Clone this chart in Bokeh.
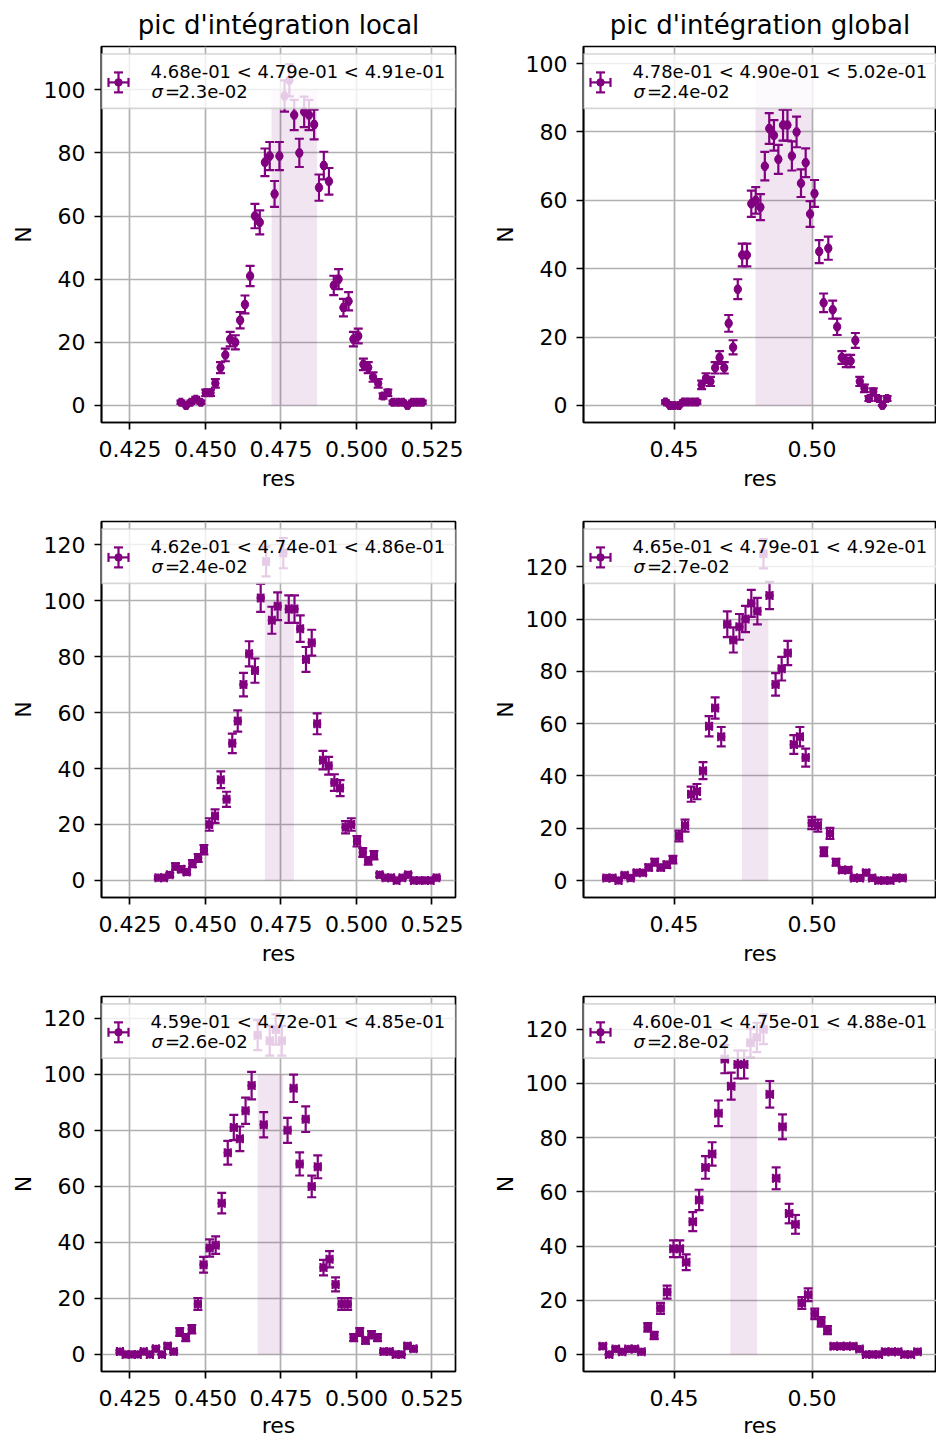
import numpy as np
from bokeh.plotting import figure
from bokeh.layouts import column, row
from bokeh.models import (ColumnDataSource, FixedTicker, NumeralTickFormatter,
                          BoxAnnotation, Label, Range1d)
from bokeh.embed import file_html
from bokeh.resources import INLINE

# ---------------------------------------------------------------- data
titles = ["pic d'intégration local", "pic d'intégration global"]

res_1 = [0.4419, 0.4436, 0.4452, 0.4468, 0.4485, 0.4501, 0.4517, 0.4533, 0.4550, 0.4566,
         0.4582, 0.4599, 0.4615, 0.4631, 0.4648, 0.4664, 0.4680, 0.4697, 0.4713, 0.4729,
         0.4745, 0.4762, 0.4778, 0.4794, 0.4811, 0.4827, 0.4843, 0.4860, 0.4876, 0.4892,
         0.4909, 0.4925, 0.4941, 0.4957, 0.4974, 0.4990, 0.5006, 0.5023, 0.5039, 0.5055,
         0.5072, 0.5088, 0.5104, 0.5121, 0.5137, 0.5153, 0.5169, 0.5186, 0.5202, 0.5218]
N_1 = [1, 0, 1, 2, 1, 4, 4, 7, 12, 16, 21, 20, 27, 32, 41, 60, 58, 77, 79, 67,
       79, 98, 103, 92, 80, 93, 92, 89, 69, 76, 71, 38, 40, 31, 33, 21, 22, 13, 12, 9,
       7, 3, 4, 1, 1, 1, 0, 1, 1, 1]

res_2 = [0.4469, 0.4485, 0.4501, 0.4518, 0.4534, 0.4550, 0.4567, 0.4583, 0.4600, 0.4616,
         0.4632, 0.4649, 0.4665, 0.4682, 0.4698, 0.4714, 0.4731, 0.4747, 0.4764, 0.4780,
         0.4796, 0.4813, 0.4829, 0.4845, 0.4862, 0.4878, 0.4895, 0.4911, 0.4927, 0.4944,
         0.4960, 0.4977, 0.4993, 0.5009, 0.5026, 0.5042, 0.5059, 0.5075, 0.5091, 0.5108,
         0.5124, 0.5140, 0.5157, 0.5173, 0.5190, 0.5206, 0.5222, 0.5239, 0.5255, 0.5272]
N_2 = [1, 0, 0, 0, 1, 1, 1, 1, 6, 8, 7, 11, 14, 11, 24, 17, 34, 44, 44, 59,
       60, 58, 70, 81, 79, 72, 82, 82, 73, 80, 65, 71, 56, 62, 45, 30, 46, 28, 23, 14,
       13, 13, 19, 7, 5, 2, 4, 2, 0, 2]

res_3 = [0.4344, 0.4363, 0.4382, 0.4401, 0.4420, 0.4438, 0.4457, 0.4476, 0.4495, 0.4513,
         0.4532, 0.4551, 0.4570, 0.4589, 0.4607, 0.4626, 0.4645, 0.4664, 0.4683, 0.4701,
         0.4720, 0.4739, 0.4758, 0.4776, 0.4795, 0.4814, 0.4833, 0.4852, 0.4870, 0.4889,
         0.4908, 0.4927, 0.4946, 0.4964, 0.4983, 0.5002, 0.5021, 0.5039, 0.5058, 0.5077,
         0.5096, 0.5115, 0.5133, 0.5152, 0.5171, 0.5190, 0.5209, 0.5227, 0.5246, 0.5265]
N_3 = [1, 1, 2, 5, 4, 3, 6, 8, 11, 20, 23, 36, 29, 49, 57, 70, 81, 75, 101, 114,
       93, 98, 117, 97, 97, 90, 79, 85, 56, 43, 41, 35, 33, 19, 20, 14, 10, 7, 9, 2,
       1, 1, 0, 1, 2, 0, 0, 0, 0, 1]

res_4 = [0.4255, 0.4277, 0.4299, 0.4321, 0.4343, 0.4365, 0.4387, 0.4408, 0.4430, 0.4452,
         0.4474, 0.4496, 0.4518, 0.4540, 0.4562, 0.4583, 0.4605, 0.4627, 0.4649, 0.4671,
         0.4693, 0.4715, 0.4737, 0.4759, 0.4780, 0.4802, 0.4824, 0.4846, 0.4868, 0.4890,
         0.4912, 0.4934, 0.4956, 0.4977, 0.4999, 0.5021, 0.5043, 0.5065, 0.5087, 0.5109,
         0.5131, 0.5152, 0.5174, 0.5196, 0.5218, 0.5240, 0.5262, 0.5284, 0.5306, 0.5328]
N_4 = [1, 1, 0, 2, 1, 3, 3, 5, 7, 5, 6, 8, 17, 21, 33, 34, 42, 59, 66, 55,
       98, 92, 97, 100, 106, 103, 125, 109, 75, 81, 87, 52, 55, 47, 22, 21, 11, 18, 7, 4,
       4, 1, 1, 3, 1, 0, 0, 0, 1, 1]

res_5 = [0.4217, 0.4236, 0.4256, 0.4276, 0.4296, 0.4316, 0.4336, 0.4356, 0.4375, 0.4395,
         0.4415, 0.4435, 0.4455, 0.4475, 0.4494, 0.4514, 0.4534, 0.4554, 0.4574, 0.4594,
         0.4614, 0.4633, 0.4653, 0.4673, 0.4693, 0.4713, 0.4733, 0.4753, 0.4772, 0.4792,
         0.4812, 0.4832, 0.4852, 0.4872, 0.4891, 0.4911, 0.4931, 0.4951, 0.4971, 0.4991,
         0.5011, 0.5030, 0.5050, 0.5070, 0.5090, 0.5110, 0.5130, 0.5149, 0.5169, 0.5189]
N_5 = [1, 0, 0, 0, 1, 0, 2, 0, 3, 1, 8, 6, 9, 18, 32, 38, 39, 54, 72, 81,
       77, 87, 96, 114, 82, 112, 116, 112, 80, 95, 68, 84, 60, 67, 31, 34, 25, 18, 18, 6,
       8, 5, 7, 6, 1, 1, 0, 0, 3, 2]

res_6 = [0.4242, 0.4265, 0.4289, 0.4312, 0.4335, 0.4358, 0.4382, 0.4405, 0.4428, 0.4451,
         0.4475, 0.4498, 0.4521, 0.4544, 0.4568, 0.4591, 0.4614, 0.4638, 0.4661, 0.4684,
         0.4707, 0.4731, 0.4754, 0.4777, 0.4800, 0.4824, 0.4847, 0.4870, 0.4893, 0.4917,
         0.4940, 0.4963, 0.4986, 0.5010, 0.5033, 0.5056, 0.5079, 0.5103, 0.5126, 0.5149,
         0.5172, 0.5196, 0.5219, 0.5242, 0.5265, 0.5289, 0.5312, 0.5335, 0.5358, 0.5382]
N_6 = [3, 0, 2, 1, 2, 2, 1, 10, 7, 17, 23, 39, 39, 34, 49, 57, 69, 74, 89, 109,
       99, 107, 107, 115, 117, 120, 96, 65, 84, 52, 48, 19, 22, 15, 12, 9, 3, 3, 3, 3,
       2, 0, 0, 0, 1, 1, 1, 0, 0, 1]

half_bin = [0.0004, 0.0004, 0.00094, 0.00109, 0.00099, 0.00116]
band_lo = [0.4719, 0.4795, 0.4697, 0.4746, 0.4673, 0.4704]
band_hi = [0.4870, 0.4999, 0.4793, 0.4842, 0.4758, 0.4801]
band_top = 100
quantiles = ["4.68e-01 < 4.79e-01 < 4.91e-01", "4.78e-01 < 4.90e-01 < 5.02e-01",
             "4.62e-01 < 4.74e-01 < 4.86e-01", "4.65e-01 < 4.79e-01 < 4.92e-01",
             "4.59e-01 < 4.72e-01 < 4.85e-01", "4.60e-01 < 4.75e-01 < 4.88e-01"]
sigmas = ["2.3e-02", "2.4e-02", "2.4e-02", "2.7e-02", "2.6e-02", "2.8e-02"]

x_ticks = [[0.425, 0.450, 0.475, 0.500, 0.525], [0.45, 0.50]]
x_formats = ["0.000", "0.00"]
y_ticks_100 = [0, 20, 40, 60, 80, 100]
y_ticks_120 = [0, 20, 40, 60, 80, 100, 120]
x_lims = [(0.4156, 0.5328), (0.4172, 0.5451)]
y_lims = [(-5.4, 113.7), (-5.0, 105.0), (-6.1, 128.3), (-6.5, 137.3), (-6.1, 127.8), (-6.3, 132.1)]

all_res = [res_1, res_2, res_3, res_4, res_5, res_6]
all_N = [N_1, N_2, N_3, N_4, N_5, N_6]

# ---------------------------------------------------------------- style / layout
PURPLE = "#800080"
FONT = "DejaVu Sans"
COL_W = [472, 464]
COL_BL = [101, 111]
COL_BR = [17, 0]
ROW_H = [493, 475, 472]
ROW_BT = [46, 28, 28]
ROW_BB = [70, 70, 67]
FRAME_H = 377
FRAME_W = [COL_W[c] - COL_BL[c] - COL_BR[c] for c in range(2)]
LW = 2.2
CAP = 9
MS = 7.5


def errorbars(p, src, level=None):
    rs = []
    rs.append(p.segment(x0="x", y0="ylo", x1="x", y1="yhi", source=src,
                        line_color=PURPLE, line_width=LW))
    rs.append(p.segment(x0="xlo", y0="y", x1="xhi", y1="y", source=src,
                        line_color=PURPLE, line_width=LW))
    for xc, yc, ang in (("x", "ylo", 0), ("x", "yhi", 0),
                        ("xlo", "y", np.pi / 2), ("xhi", "y", np.pi / 2)):
        rs.append(p.scatter(x=xc, y=yc, source=src, marker="dash", size=CAP, angle=ang,
                            line_color=PURPLE, line_width=LW))
    rs.append(p.scatter(x="x", y="y", source=src, marker="circle", size=MS,
                        fill_color=PURPLE, line_color=PURPLE, line_width=1))
    if level:
        for r in rs:
            r.level = level


def build(k):
    col, r = k % 2, k // 2
    x0, x1 = x_lims[col]
    y0, y1 = y_lims[k]
    p = figure(width=COL_W[col], height=ROW_H[r],
               x_range=Range1d(x0, x1), y_range=Range1d(y0, y1),
               output_backend="svg", toolbar_location=None,
               title=(titles[col] if r == 0 else None),
               min_border_left=COL_BL[col], min_border_right=COL_BR[col],
               min_border_top=ROW_BT[r], min_border_bottom=ROW_BB[r])
    p.background_fill_color = "white"
    p.border_fill_color = "white"
    p.outline_line_color = "black"
    p.outline_line_width = 1.7

    if r == 0:
        p.title.align = "center"
        p.title.text_font = FONT
        p.title.text_font_size = "26px"
        p.title.text_font_style = "normal"
        p.title.text_color = "black"
        p.title.standoff = 14

    yt = y_ticks_100 if k < 2 else y_ticks_120
    p.xaxis.ticker = FixedTicker(ticks=x_ticks[col])
    p.yaxis.ticker = FixedTicker(ticks=yt)
    p.xgrid.ticker = FixedTicker(ticks=x_ticks[col])
    p.ygrid.ticker = FixedTicker(ticks=yt)
    p.xaxis.formatter = NumeralTickFormatter(format=x_formats[col])
    p.grid.grid_line_color = "#b0b0b0"
    p.grid.grid_line_width = 1.7

    for ax in (p.xaxis[0], p.yaxis[0]):
        ax.major_tick_out = 7
        ax.major_tick_in = 0
        ax.minor_tick_out = 0
        ax.minor_tick_in = 0
        ax.major_tick_line_color = "black"
        ax.major_tick_line_width = 1.7
        ax.axis_line_color = "black"
        ax.axis_line_width = 1.7
        ax.major_label_text_font = FONT
        ax.major_label_text_font_size = "22px"
        ax.major_label_text_color = "black"
        ax.axis_label_text_font = FONT
        ax.axis_label_text_font_size = "22px"
        ax.axis_label_text_font_style = "normal"
        ax.axis_label_text_color = "black"
    p.xaxis.axis_label = "res"
    p.yaxis.axis_label = "N"
    p.xaxis.major_label_standoff = 11
    p.xaxis.axis_label_standoff = 6 if r < 2 else 4
    p.yaxis.major_label_standoff = 9
    p.yaxis.axis_label_standoff = 5

    # shaded interval
    p.quad(left=[band_lo[k]], right=[band_hi[k]], bottom=[0], top=[band_top],
           fill_color=PURPLE, fill_alpha=0.1, line_color=None)

    # data with error bars
    x = np.array(all_res[k], dtype=float)
    n = np.array(all_N[k], dtype=float)
    yerr = np.sqrt(n) / 2.0
    xe = half_bin[k]
    src = ColumnDataSource(dict(x=x, y=n, ylo=n - yerr, yhi=n + yerr, xlo=x - xe, xhi=x + xe))
    errorbars(p, src)

    # legend (pixel offsets from the frame's top-left corner -> data units)
    def dx(px):
        return x0 + px / FRAME_W[col] * (x1 - x0)

    def dy(px):
        return y1 - px / FRAME_H * (y1 - y0)

    p.add_layout(BoxAnnotation(left=dx(-9), right=dx(355), top=dy(7.5), bottom=dy(62),
                               fill_color="white", fill_alpha=0.8,
                               line_color="#cccccc", line_alpha=0.8, line_width=1.7,
                               border_radius=4))
    lab_kw = dict(text_font=FONT, text_font_size="18px", text_align="left",
                  text_color="black", text_baseline="middle")
    p.add_layout(Label(x=dx(49), y=dy(25), text=quantiles[k], **lab_kw))
    p.add_layout(Label(x=dx(50), y=dy(45), text="σ", text_font_style="italic", **lab_kw))
    p.add_layout(Label(x=dx(63.5), y=dy(45), text="=", **lab_kw))
    p.add_layout(Label(x=dx(77), y=dy(45), text=sigmas[k], **lab_kw))

    mx, my = dx(17), dy(36)
    lsrc = ColumnDataSource(dict(x=[mx], y=[my], ylo=[dy(46)], yhi=[dy(26)],
                                 xlo=[dx(7)], xhi=[dx(27)]))
    errorbars(p, lsrc, level="overlay")
    return p


panels = [build(k) for k in range(6)]
layout = column(row(panels[0], panels[1]), row(panels[2], panels[3]),
                row(panels[4], panels[5]))

open("out.html", "w").write(file_html(layout, INLINE))
